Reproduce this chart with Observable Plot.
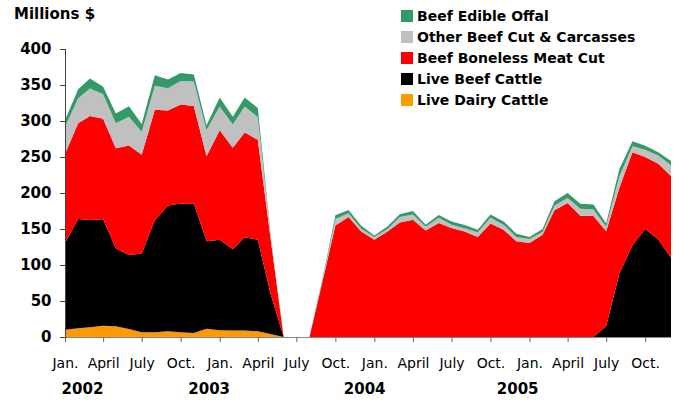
<!DOCTYPE html>
<html>
<head>
<meta charset="utf-8">
<script src="https://cdn.jsdelivr.net/npm/d3@7"></script>
<script src="https://cdn.jsdelivr.net/npm/@observablehq/plot@0.6"></script>
<style>
  body { margin: 0; background: #fff; }
  #chart { position: relative; width: 673px; height: 404px; font-family: "DejaVu Sans", sans-serif; color: #000; }
  #chart svg { position: absolute; left: 0; top: 0; }
  .unit { position: absolute; left: 14px; top: 7px; font-weight: bold; font-size: 15px; line-height: 15px; }
  .legend { position: absolute; left: 401px; top: 5px; }
  .legend .row { display: flex; align-items: center; height: 21px; font-weight: bold; font-size: 14px; white-space: nowrap; }
  .legend .sw { width: 12px; height: 12px; margin-right: 4px; flex: none; }
</style>
</head>
<body>
<div id="chart">
  <div class="unit">Millions $</div>
  <div class="legend" id="legend"></div>
</div>
<script>
// Monthly import values, January 2002 – December 2005 (millions of dollars)
const startMonth = new Date(Date.UTC(2002, 0, 1));
const endMonth = new Date(Date.UTC(2005, 11, 1));

const liveDairyCattle = [10, 12, 13.5, 15.5, 15, 11, 6.5, 6.5, 8, 6.5, 5.5, 11.5,
  9.5, 9, 9, 8, 4, 0, 0, 0, 0, 0, 0, 0,
  0, 0, 0, 0, 0, 0, 0, 0, 0, 0, 0, 0,
  0, 0, 0, 0, 0, 0, 0, 0, 0, 0, 0, 0];

const liveBeefCattle = [120.5, 152, 149, 148, 108, 103, 109.5, 155.5, 174.5, 179, 180, 121.5,
  125.5, 113, 129.5, 127, 56, 0, 0, 0, 0, 0, 0, 0,
  0, 0, 0, 0, 0, 0, 0, 0, 0, 0, 0, 0,
  0, 0, 0, 0, 0, 0, 15, 88, 127, 150, 135.5, 110];

const beefBoneless = [123.5, 133, 144.5, 139.5, 139, 152, 137, 153.5, 132, 137.5, 135.5, 118,
  152, 141, 145.5, 139, 77, 0, 0, 0, 78, 155, 166.5, 146.5,
  135, 146.5, 159, 163, 148, 158.5, 151.5, 146.5, 139, 157.5, 149, 133,
  130.5, 142, 176, 186, 168.5, 168, 132, 119, 129.5, 100, 105, 113.5];

const otherBeefCut = [38, 34.5, 38, 34, 35, 40, 32, 33.5, 31, 32.5, 34, 36,
  33, 32, 36, 31.5, 5, 0, 0, 0, 2, 9, 5.5, 4,
  4, 3.5, 7.5, 7, 5, 7, 4.5, 4.5, 6.5, 8, 7, 6,
  5.5, 4, 6.5, 7, 9.5, 9, 6, 16, 8.5, 10, 11.5, 15];

const beefOffal = [9, 12.5, 14, 10.5, 13.5, 14.5, 11, 14.5, 12, 11, 9.5, 7,
  12.5, 11, 12.5, 12.5, 2, 0, 0, 0, 2, 5, 4.5, 4,
  2, 3.5, 4, 5, 3, 4, 4.5, 4.5, 3.5, 4.5, 4.5, 4.5,
  3, 4, 6, 7, 7, 7, 4.5, 10, 7, 5.5, 4.5, 6];

// Series in stacking order, bottom to top
const seriesNames = ["Live Dairy Cattle", "Live Beef Cattle", "Beef Boneless Meat Cut",
  "Other Beef Cut & Carcasses", "Beef Edible Offal"];
const seriesValues = [liveDairyCattle, liveBeefCattle, beefBoneless, otherBeefCut, beefOffal];
const seriesColors = ["#FF9900", "#000000", "#FF0000", "#C0C0C0", "#339966"];

const yTicks = [0, 50, 100, 150, 200, 250, 300, 350, 400];
const monthTickLabels = ["Jan.", "April", "July", "Oct."];
const yearLabels = ["2002", "2003", "2004", "2005"];
const yearLabelDates = ["2002-02-10", "2002-12-06", "2003-12-08", "2004-12-03"];

const months = d3.utcMonth.range(startMonth, d3.utcMonth.offset(endMonth, 1));
const quarterTicks = d3.utcMonth.every(3).range(startMonth, d3.utcMonth.offset(endMonth, 1));

const rows = seriesNames.flatMap((name, s) =>
  months.map((date, i) => ({date, series: name, value: seriesValues[s][i]})));

const years = yearLabels.map((label, i) => ({label, date: new Date(yearLabelDates[i])}));

const plot = Plot.plot({
  width: 673,
  height: 404,
  marginLeft: 65,
  marginRight: 2,
  marginTop: 49,
  marginBottom: 67,
  style: {fontFamily: "DejaVu Sans, sans-serif", background: "transparent", color: "#000"},
  x: {type: "utc", domain: [startMonth, endMonth]},
  y: {domain: [0, 400]},
  color: {domain: seriesNames, range: seriesColors},
  marks: [
    Plot.areaY(rows, {x: "date", y: "value", fill: "series", order: seriesNames, curve: "linear"}),
    Plot.ruleY([0], {stroke: "#888"}),
    Plot.ruleX([startMonth], {y1: 0, y2: 400, stroke: "#444"}),
    Plot.axisY(yTicks, {
      tickSize: 5, tickPadding: 9, stroke: "#444", label: null,
      fontSize: 15, fontWeight: "bold", fill: "#000"
    }),
    Plot.axisX(quarterTicks, {
      tickSize: 5, tickPadding: 16, stroke: "#666", label: null,
      tickFormat: d => monthTickLabels[d.getUTCMonth() / 3],
      fontSize: 14, fill: "#000"
    }),
    Plot.text(years, {
      x: "date", text: "label", frameAnchor: "bottom", dy: 56,
      fontSize: 15, fontWeight: "bold", fill: "#000"
    })
  ]
});
document.getElementById("chart").prepend(plot);

// Legend, listed top series first
const legend = d3.select("#legend");
seriesNames.map((name, i) => ({name, color: seriesColors[i]})).reverse().forEach(d => {
  const row = legend.append("div").attr("class", "row");
  row.append("span").attr("class", "sw").style("background", d.color);
  row.append("span").text(d.name);
});
</script>
</body>
</html>
